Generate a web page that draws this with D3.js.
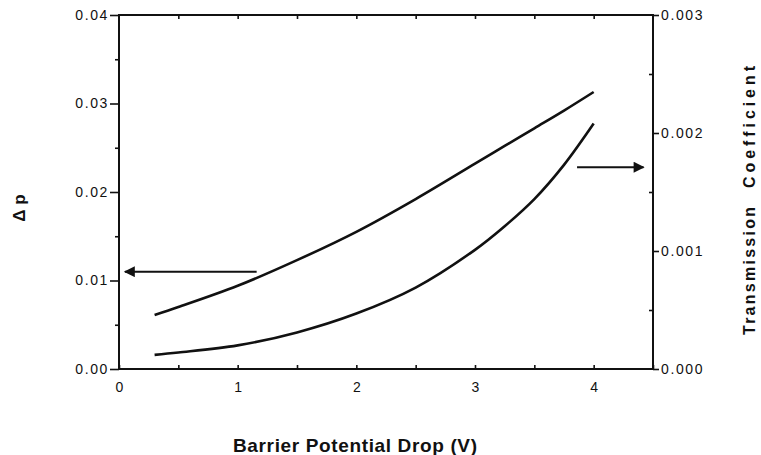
<!DOCTYPE html>
<html>
<head>
<meta charset="utf-8">
<script src="https://cdn.jsdelivr.net/npm/d3@7"></script>
<style>
  body { margin: 0; background: #fff; }
  svg { display: block; }
  text { font-family: "Liberation Sans", Arial, sans-serif; fill: #111; }
</style>
</head>
<body>
<svg id="chart" width="761" height="455"></svg>
<script>
// values
const voltage = [0.3, 0.5, 1, 1.5, 2, 2.5, 3, 3.25, 3.5, 3.75, 4];
const deltaP = [0.0061, 0.0070, 0.0094, 0.0123, 0.0155, 0.0192, 0.0232, 0.0252, 0.0272, 0.0292, 0.0313];
const transmission = [0.00012, 0.00014, 0.00020, 0.00031, 0.00047, 0.00069, 0.00101, 0.00121, 0.00144, 0.00173, 0.00208];

const xTicks = [0, 1, 2, 3, 4];
const leftTicks = [0, 0.01, 0.02, 0.03, 0.04];
const rightTicks = [0, 0.001, 0.002, 0.003];

// arrows pointing to which axis each curve belongs
const leftArrow = { from: [1.16, 0.011], to: [0.05, 0.011] };
const rightArrow = { from: [3.86, 0.00171], to: [4.42, 0.00171] };

const svg = d3.select("#chart");
const m = { left: 119, right: 653, top: 15, bottom: 369 };

const x = d3.scaleLinear([0, 4.5], [m.left, m.right]);
const yL = d3.scaleLinear([0, 0.04], [m.bottom, m.top]);
const yR = d3.scaleLinear([0, 0.003], [m.bottom, m.top]);

svg.append("defs").append("marker")
  .attr("id", "head")
  .attr("viewBox", "0 0 10 10")
  .attr("refX", 9).attr("refY", 5)
  .attr("markerWidth", 7).attr("markerHeight", 5.5)
  .attr("markerUnits", "strokeWidth")
  .attr("orient", "auto")
  .append("path").attr("d", "M0,0L10,5L0,10z").attr("fill", "#111");

const axisStyle = g => {
  g.select(".domain").remove();
  g.selectAll("line").attr("stroke", "#111").attr("stroke-width", 1.6);
  g.selectAll("text").attr("font-size", 14).attr("letter-spacing", 1.6).attr("fill", "#111");
};

// bottom axis: labels at integers, small inward ticks every 0.5
svg.append("g")
  .attr("transform", `translate(0,${m.bottom})`)
  .call(d3.axisBottom(x).tickValues(d3.range(0, 4.51, 0.5)).tickSize(-4).tickPadding(10)
    .tickFormat(d => xTicks.includes(d) ? d : ""))
  .call(axisStyle)
  .call(g => g.selectAll("text").attr("dy", "0.9em").attr("letter-spacing", 0));

// top axis: ticks only
svg.append("g")
  .attr("transform", `translate(0,${m.top})`)
  .call(d3.axisTop(x).tickValues(d3.range(0.5, 4.5, 0.5)).tickSize(-4).tickFormat(""))
  .call(axisStyle);

// left axis, minor ticks between
svg.append("g")
  .attr("transform", `translate(${m.left},0)`)
  .call(d3.axisLeft(yL).tickValues(leftTicks).tickSize(9).tickPadding(1)
    .tickFormat(d3.format(".2f")))
  .call(axisStyle);
svg.append("g")
  .attr("transform", `translate(${m.left},0)`)
  .call(d3.axisLeft(yL).tickValues([0.005, 0.015, 0.025, 0.035]).tickSize(4).tickFormat(""))
  .call(axisStyle);

// right axis
svg.append("g")
  .attr("transform", `translate(${m.right},0)`)
  .call(d3.axisRight(yR).tickValues(rightTicks).tickSize(6).tickPadding(2)
    .tickFormat(d3.format(".3f")))
  .call(axisStyle);
svg.append("g")
  .attr("transform", `translate(${m.right},0)`)
  .call(d3.axisRight(yR).tickValues([0.0005, 0.0015, 0.0025]).tickSize(-4).tickFormat(""))
  .call(axisStyle);

// frame
svg.append("rect")
  .attr("x", m.left).attr("y", m.top)
  .attr("width", m.right - m.left).attr("height", m.bottom - m.top)
  .attr("fill", "none").attr("stroke", "#111").attr("stroke-width", 2);

// curves
const lineL = d3.line().x((d, i) => x(voltage[i])).y(d => yL(d)).curve(d3.curveCatmullRom);
const lineR = d3.line().x((d, i) => x(voltage[i])).y(d => yR(d)).curve(d3.curveCatmullRom);

svg.append("path").datum(deltaP)
  .attr("d", lineL).attr("fill", "none").attr("stroke", "#111").attr("stroke-width", 2.6);
svg.append("path").datum(transmission)
  .attr("d", lineR).attr("fill", "none").attr("stroke", "#111").attr("stroke-width", 2.6);

// arrows
svg.append("line")
  .attr("x1", x(leftArrow.from[0])).attr("y1", yL(leftArrow.from[1]))
  .attr("x2", x(leftArrow.to[0])).attr("y2", yL(leftArrow.to[1]))
  .attr("stroke", "#111").attr("stroke-width", 2).attr("marker-end", "url(#head)");
svg.append("line")
  .attr("x1", x(rightArrow.from[0])).attr("y1", yR(rightArrow.from[1]))
  .attr("x2", x(rightArrow.to[0])).attr("y2", yR(rightArrow.to[1]))
  .attr("stroke", "#111").attr("stroke-width", 2).attr("marker-end", "url(#head)");

// axis titles
svg.append("text")
  .attr("x", 233).attr("y", 452)
  .attr("font-size", 19).attr("font-weight", "bold")
  .attr("textLength", 244).attr("lengthAdjust", "spacing")
  .text("Barrier Potential Drop (V)");

svg.append("text")
  .attr("transform", "translate(25,208) rotate(-90)")
  .attr("text-anchor", "middle").attr("font-size", 17).attr("font-weight", "bold")
  .text("Δ p");

svg.append("text")
  .attr("transform", "translate(755,335) rotate(-90)")
  .attr("font-size", 16).attr("font-weight", "bold")
  .attr("textLength", 128).attr("lengthAdjust", "spacing")
  .text("Transmission");
svg.append("text")
  .attr("transform", "translate(755,188) rotate(-90)")
  .attr("font-size", 16).attr("font-weight", "bold")
  .attr("textLength", 122).attr("lengthAdjust", "spacing")
  .text("Coefficient");
</script>
</body>
</html>
